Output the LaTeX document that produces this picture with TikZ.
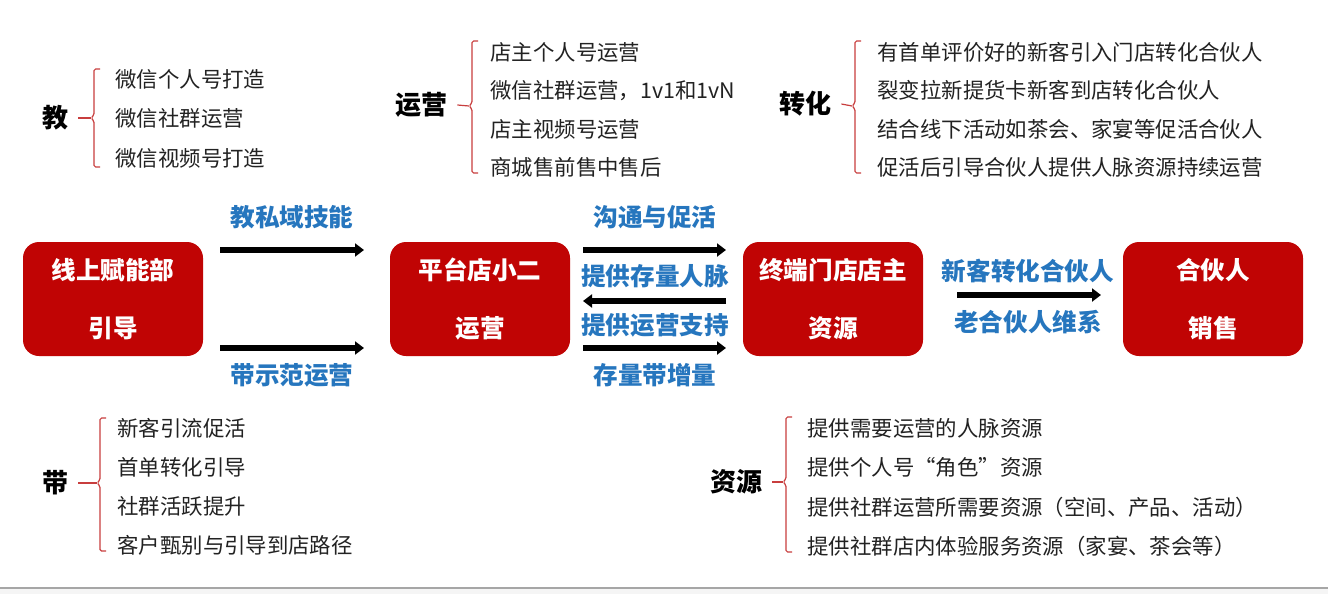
\documentclass[tikz,border=0pt]{standalone}
\usepackage{fontspec}
\setmainfont{Noto Sans CJK SC}
\usepackage{tikz}
\usetikzlibrary{arrows.meta}
\definecolor{boxred}{RGB}{192,4,4}
\definecolor{labelblue}{RGB}{38,118,190}
\definecolor{bracered}{RGB}{200,62,62}
\definecolor{itemgray}{RGB}{34,34,34}

\begin{document}
\begin{tikzpicture}[x=0.5pt,y=-0.5pt,
  box/.style={fill=boxred, rounded corners=8pt, minimum width=90pt, minimum height=57pt,
    text=white, font=\bfseries\fontsize{12.3}{14.8}\selectfont, align=center, inner sep=0pt},
  flow/.style={line width=3pt, -{Triangle[length=4.5pt,width=6.5pt]}},
  flowtxt/.style={text=labelblue, font=\bfseries\fontsize{12.3}{14}\selectfont, inner sep=0pt},
  head/.style={font=\bfseries\fontsize{13}{15}\selectfont, inner sep=0pt},
  item/.style={anchor=west, text=itemgray, font=\fontsize{10.7}{13}\selectfont, inner sep=0pt},
  brace/.style={draw=bracered, line width=0.6pt, rounded corners=0.8pt}]
\fill[white] (0,0) rectangle (1328,594);
\useasboundingbox (0,0) rectangle (1328,594);
\fill[gray!8] (0,588) rectangle (1328,594);
\draw[gray!70, line width=0.8pt] (0,588) -- (1328,588);

% main chain
\node[box] (lead) at (113,299) {线上赋能部\\[14pt]引导};
\node[box] (clerk) at (480,299) {平台店小二\\[14pt]运营};
\node[box] (owner) at (833,299) {终端门店店主\\[14pt]资源};
\node[box] (partner) at (1213,299) {合伙人\\[14pt]销售};

\coordinate (a1s) at (220,250); \coordinate (a1e) at (364,250);
\coordinate (a2s) at (220,348); \coordinate (a2e) at (364,348);
\coordinate (b1s) at (583,250); \coordinate (b1e) at (726,250);
\coordinate (b2s) at (726,301); \coordinate (b2e) at (583,301);
\coordinate (b3s) at (583,348); \coordinate (b3e) at (726,348);
\coordinate (c1s) at (957,295); \coordinate (c1e) at (1101,295);
\foreach \s/\e in {a1s/a1e, a2s/a2e, b1s/b1e, b2s/b2e, b3s/b3e, c1s/c1e}
  {\draw[flow] (\s) -- (\e);}

\node[flowtxt] (t1) at (292,217) {教私域技能};
\node[flowtxt] (t2) at (292,375) {带示范运营};
\node[flowtxt] (t3) at (655,217) {沟通与促活};
\node[flowtxt] (t4) at (655,276) {提供存量人脉};
\node[flowtxt] (t5) at (655,325) {提供运营支持};
\node[flowtxt] (t6) at (655,375) {存量带增量};
\node[flowtxt] (t7) at (1028,271) {新客转化合伙人};
\node[flowtxt] (t8) at (1028,322) {老合伙人维系};

% side groups
\node[head] (jiao) at (55,118) {教};
\node[head] (yunying) at (421,105) {运营};
\node[head] (zhuanhua) at (805,104) {转化};
\node[head] (dai) at (55,483) {带};
\node[head] (ziyuan) at (736,482) {资源};
\foreach \n/\bx/\t/\b/\m in {jiao/94/69/167/118, yunying/472/41/173/106,
    zhuanhua/855/41/173/106, dai/100/418/551/483, ziyuan/786/417/552/482}
{\draw[brace] (\bx+6,\t) -- (\bx,\t) -- (\bx,\m-3) -- (\bx-3,\m) -- (\bx,\m+3) -- (\bx,\b) -- (\bx+6,\b);
 \draw[brace] ([xshift=5pt]\n.east) -- (\bx-3,\m);}

\foreach \txt [count=\i] in {微信个人号打造, 微信社群运营, 微信视频号打造}
  {\node[item] (jiao-\i) at (115,{79+39.5*(\i-1)}) {\txt};}
\foreach \txt [count=\i] in {店主个人号运营, 微信社群运营，1v1和1vN, 店主视频号运营, 商城售前售中售后}
  {\node[item] (yunying-\i) at (490,{52+38.5*(\i-1)}) {\txt};}
\foreach \txt [count=\i] in {有首单评价好的新客引入门店转化合伙人, 裂变拉新提货卡新客到店转化合伙人,
    结合线下活动如茶会、家宴等促活合伙人, 促活后引导合伙人提供人脉资源持续运营}
  {\node[item] (zhuanhua-\i) at (877,{52+38.5*(\i-1)}) {\txt};}
\foreach \txt [count=\i] in {新客引流促活, 首单转化引导, 社群活跃提升, 客户甄别与引导到店路径}
  {\node[item] (dai-\i) at (117,{428+39*(\i-1)}) {\txt};}
\foreach \txt [count=\i] in {提供需要运营的人脉资源, 提供个人号“角色”资源,
    提供社群运营所需要资源（空间、产品、活动）, 提供社群店内体验服务资源（家宴、茶会等）}
  {\node[item] (ziyuan-\i) at (807,{428+39.5*(\i-1)}) {\txt};}

\end{tikzpicture}
\end{document}
